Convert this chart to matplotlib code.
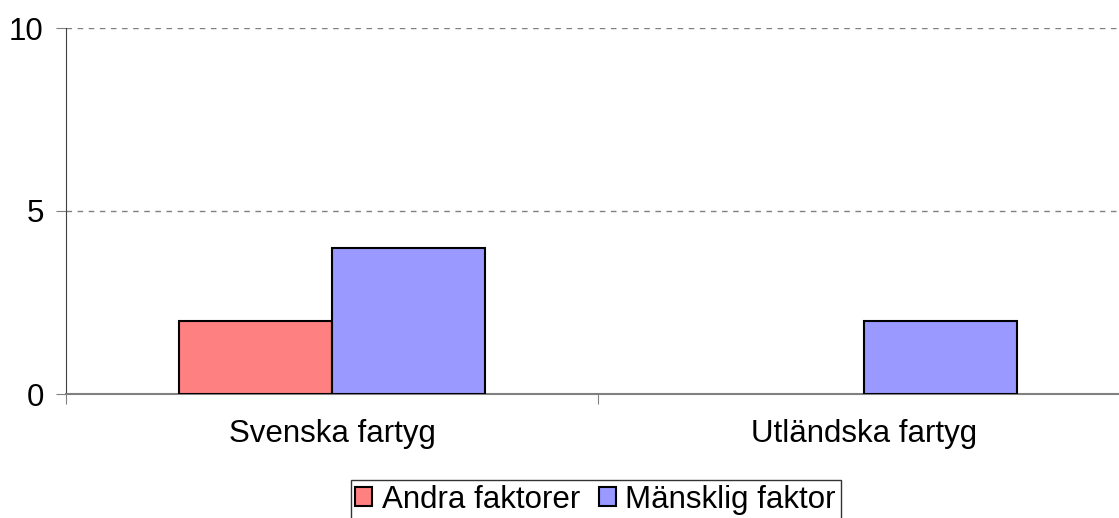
import numpy as np
import matplotlib
matplotlib.use("Agg")
import matplotlib.pyplot as plt
from matplotlib.patches import Patch

# data
categories = ["Svenska fartyg", "Utländska fartyg"]
series_names = ["Andra faktorer", "Mänsklig faktor"]
andra = [2, 0]
mansklig = [4, 2]
colors = ["#FF8080", "#9999FF"]

plt.rcParams['font.family'] = ['Liberation Sans', 'DejaVu Sans']
FS = 22.5

fig = plt.figure(figsize=(11.19, 5.18), dpi=100)
ax = fig.add_axes([66 / 1119, 124 / 518, 1064 / 1119, 366 / 518])

x = np.arange(len(categories))
w = 0.288
for vals, off, c in [(andra, -w / 2, colors[0]), (mansklig, w / 2, colors[1])]:
    lws = [1.5 if v > 0 else 0 for v in vals]
    ax.bar(x + off, vals, w, color=c, edgecolor="black", linewidth=lws, zorder=3)

ax.set_xlim(-0.5, 1.5)
ax.set_ylim(0, 10)
ax.set_yticks([0, 5, 10])
ax.yaxis.grid(True, linestyle=(0, (4, 4)), color="#808080", linewidth=1)
ax.set_axisbelow(True)

ax.set_xticks([-0.5, 0.5, 1.5])
ax.set_xticklabels([])
ax.set_xticks(x, minor=True)
ax.set_xticklabels(categories, minor=True)
ax.tick_params(axis="x", which="minor", length=0, pad=18, labelsize=FS)
ax.tick_params(axis="x", which="major", length=7, color="#808080", direction="out")
ax.tick_params(axis="y", length=7, color="#808080", labelsize=FS, pad=9)

for s in ["top", "right"]:
    ax.spines[s].set_visible(False)
ax.spines["left"].set_color("#404040")
ax.spines["bottom"].set_color("#808080")
ax.spines["bottom"].set_linewidth(1.5)

handles = [Patch(facecolor=c, edgecolor="black", linewidth=1.5) for c in colors]
leg = fig.legend(handles, series_names, loc="upper center",
                 bbox_to_anchor=(595.5 / 1119, 1 - 480 / 518), ncol=2, fontsize=FS,
                 frameon=True, fancybox=False, edgecolor="black",
                 handlelength=0.55, handleheight=0.55, handletextpad=0.3,
                 columnspacing=0.6, borderpad=0.15, borderaxespad=0)
leg.get_frame().set_linewidth(1)

fig.savefig("out.png", dpi=100)
